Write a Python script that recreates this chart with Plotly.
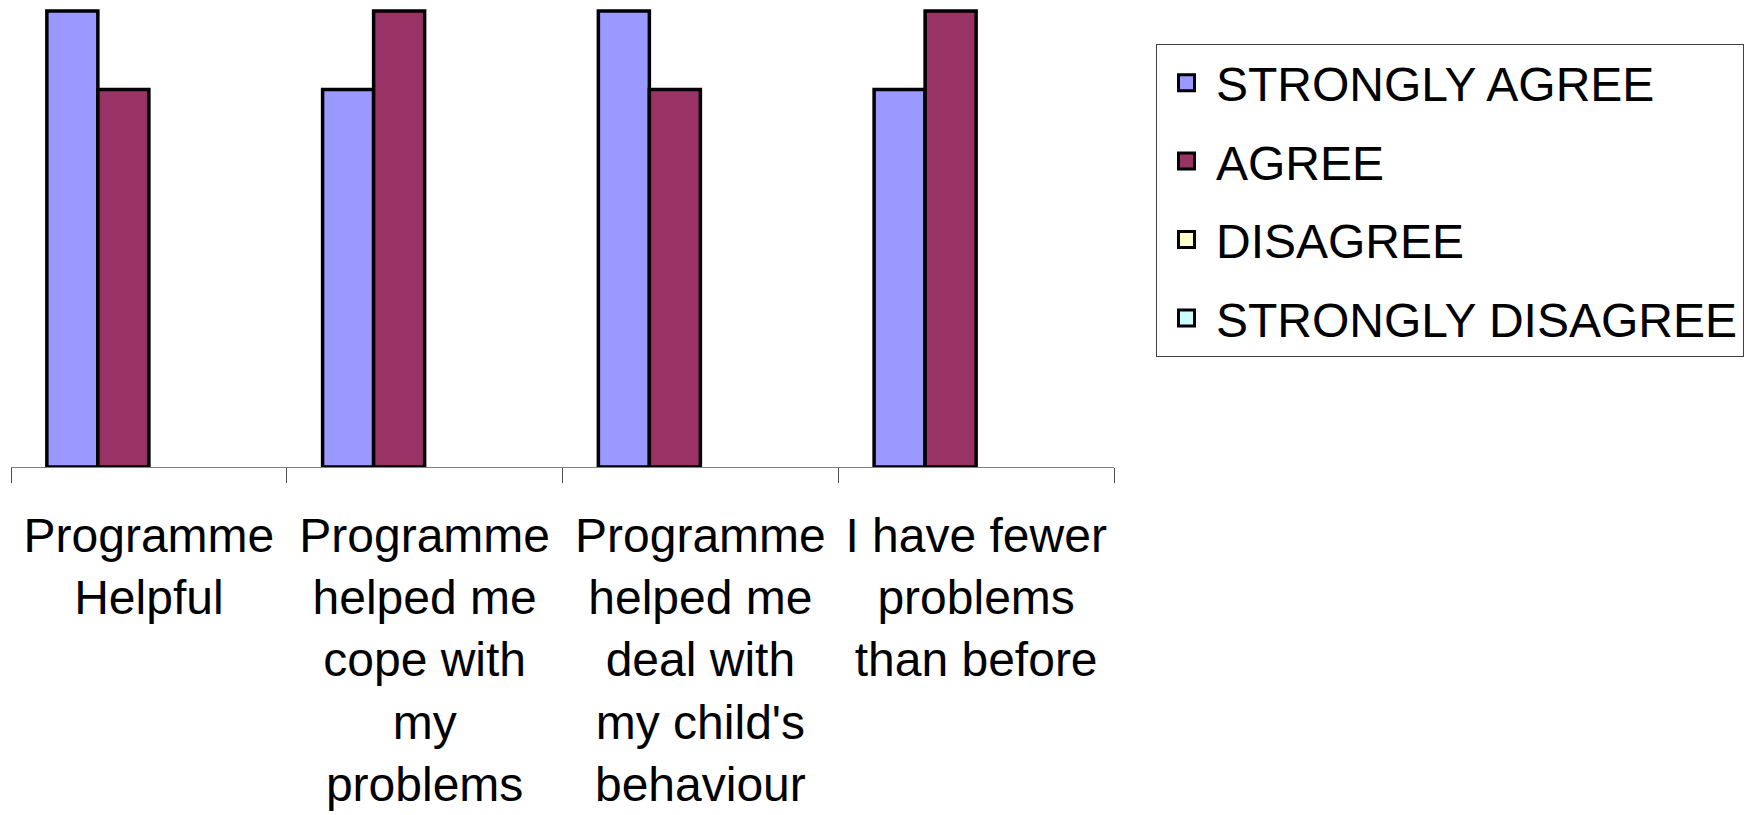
import plotly.graph_objects as go

# ---- data ----
categories = [
    "Programme<br>Helpful",
    "Programme<br>helped me<br>cope with<br>my<br>problems",
    "Programme<br>helped me<br>deal with<br>my child's<br>behaviour",
    "I have fewer<br>problems<br>than before",
]
series_names = ["STRONGLY AGREE", "AGREE", "DISAGREE", "STRONGLY DISAGREE"]
strongly_agree = [29, 24, 29, 24]
agree = [24, 29, 24, 29]
disagree = [0, 0, 0, 0]
strongly_disagree = [0, 0, 0, 0]

series_values = [strongly_agree, agree, disagree, strongly_disagree]
series_colors = ["#9999FF", "#993366", "#FFFFCC", "#CCFFFF"]

FONT = "Liberation Sans, Arial, sans-serif"

fig = go.Figure()
for i, (name, vals, col) in enumerate(zip(series_names, series_values, series_colors)):
    # bars (zero values left blank so no outline is drawn on the axis)
    fig.add_trace(go.Bar(
        x=categories, y=[v if v else None for v in vals], name=name,
        marker=dict(color=col, line=dict(color="black", width=3.5)),
        legendgroup=f"g{i}", showlegend=False,
    ))
    # legend entry with a larger square swatch
    fig.add_trace(go.Scatter(
        x=[None], y=[None], mode="markers", name=name,
        marker=dict(symbol="square", size=16, color=col,
                    line=dict(color="black", width=3)),
        legendgroup=f"g{i}", showlegend=True, hoverinfo="skip",
    ))

# page offsets (browser body margin is 8px)
OFF = 8
plot_top, plot_bottom = 8, 467          # page coords
plot_left, plot_right = 11, 1114
plot_h = plot_bottom - plot_top
fig_w, fig_h = 1757 - OFF, 815 - OFF

ymax = max(max(strongly_agree), max(agree))
fig.update_layout(
    width=fig_w, height=fig_h,
    margin=dict(l=plot_left - OFF, r=fig_w - (plot_right - OFF),
                t=plot_top - OFF, b=fig_h - (plot_bottom - OFF), pad=0),
    paper_bgcolor="white", plot_bgcolor="white",
    barmode="group", bargap=0.26, bargroupgap=0,
    font=dict(family=FONT, size=48, color="black"),
    showlegend=True,
    legend=dict(
        x=(1156 - plot_left) / (plot_right - plot_left), xanchor="left",
        y=(plot_bottom - 44) / plot_h, yanchor="top",
        bordercolor="#404040", borderwidth=1,
        bgcolor="white",
        font=dict(family=FONT, size=48, color="black"),
        traceorder="grouped", tracegroupgap=13,
        itemwidth=49,
    ),
    xaxis=dict(
        showline=True, linecolor="#808080", linewidth=1,
        ticks="outside", ticklen=15, tickcolor="#505050", tickwidth=1,
        tickson="boundaries",
        showgrid=False, zeroline=False,
        tickfont=dict(family=FONT, size=48, color="black"),
        tickangle=0, ticklabelstandoff=26,
    ),
    yaxis=dict(
        visible=False, range=[0, ymax * plot_h / 456],
        showgrid=False, zeroline=False,
    ),
)

fig.write_html("out.html")
